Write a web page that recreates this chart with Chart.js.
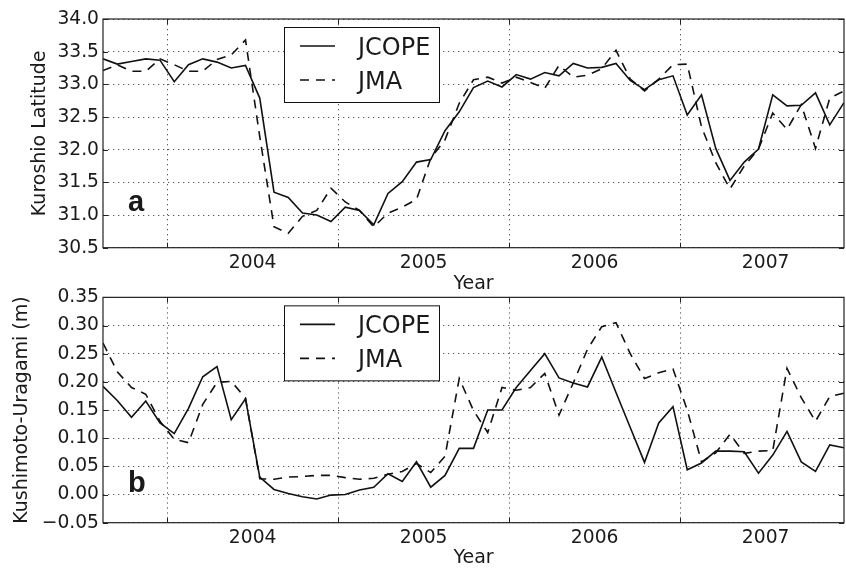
<!DOCTYPE html>
<html>
<head>
<meta charset="utf-8">
<script src="https://cdn.jsdelivr.net/npm/chart.js@4.4.1/dist/chart.umd.min.js"></script>
<style>
  html, body { margin: 0; padding: 0; background: #fff; }
  #wrap { position: relative; width: 846px; height: 568px; overflow: hidden; }
  #wrap canvas { position: absolute; left: 0; }
  #topChart { top: 0; }
  #bottomChart { top: 284px; }
</style>
</head>
<body>
<div id="wrap">
  <canvas id="topChart" width="846" height="294"></canvas>
  <canvas id="bottomChart" width="846" height="284"></canvas>
</div>
<script>
// monthly samples, Aug 2003 - Dec 2007
const months = [
  '2003-08', '2003-09', '2003-10', '2003-11', '2003-12',
  '2004-01', '2004-02', '2004-03', '2004-04', '2004-05', '2004-06', '2004-07', '2004-08', '2004-09', '2004-10', '2004-11', '2004-12',
  '2005-01', '2005-02', '2005-03', '2005-04', '2005-05', '2005-06', '2005-07', '2005-08', '2005-09', '2005-10', '2005-11', '2005-12',
  '2006-01', '2006-02', '2006-03', '2006-04', '2006-05', '2006-06', '2006-07', '2006-08', '2006-09', '2006-10', '2006-11', '2006-12',
  '2007-01', '2007-02', '2007-03', '2007-04', '2007-05', '2007-06', '2007-07', '2007-08', '2007-09', '2007-10', '2007-11', '2007-12'
];

// (a) Kuroshio latitude
const latJcope = [
  33.39, 33.31, 33.35, 33.39, 33.37,
  33.04, 33.30, 33.39, 33.34, 33.25, 33.29, 32.79, 31.35, 31.27, 31.03, 31.00, 30.90,
  31.12, 31.07, 30.85, 31.33, 31.51, 31.81, 31.85, 32.29, 32.58, 32.95, 33.05, 32.96,
  33.15, 33.08, 33.18, 33.13, 33.32, 33.25, 33.26, 33.32, 33.06, 32.92, 33.07, 33.13,
  32.53, 32.84, 32.02, 31.53, 31.81, 32.01, 32.84, 32.67, 32.68, 32.87, 32.38, 32.72
];
const latJma = [
  33.21, 33.30, 33.20, 33.20, 33.39,
  33.30, 33.20, 33.20, 33.38, 33.45, 33.68, 32.20, 30.82, 30.72, 30.98, 31.07, 31.41,
  31.20, 31.07, 30.82, 31.03, 31.12, 31.24, 31.87, 32.15, 32.71, 33.07, 33.11, 33.02,
  33.11, 33.03, 32.94, 33.29, 33.11, 33.14, 33.24, 33.52, 33.08, 32.90, 33.08, 33.30,
  33.31, 32.35, 31.80, 31.40, 31.75, 32.01, 32.56, 32.31, 32.69, 32.02, 32.79, 32.90
];

// (b) Kushimoto-Uragami sea level difference (m)
const levJcope = [
  0.192, 0.167, 0.137, 0.166, 0.127,
  0.108, 0.153, 0.209, 0.227, 0.133, 0.170, 0.031, 0.009, 0.002, -0.004, -0.008, -0.001,
  0.000, 0.008, 0.013, 0.037, 0.023, 0.058, 0.013, 0.034, 0.082, 0.082, 0.150, 0.150,
  0.190, 0.220, 0.250, 0.207, 0.198, 0.191, 0.244, 0.181, 0.119, 0.057, 0.127, 0.156,
  0.044, 0.056, 0.077, 0.077, 0.076, 0.038, 0.070, 0.112, 0.058, 0.041, 0.088, 0.083
];
const levJma = [
  0.269, 0.218, 0.190, 0.178, 0.130,
  0.098, 0.092, 0.160, 0.199, 0.201, 0.171, 0.028, 0.027, 0.031, 0.032, 0.034, 0.034,
  0.030, 0.027, 0.029, 0.036, 0.041, 0.055, 0.039, 0.068, 0.206, 0.149, 0.110, 0.190,
  0.185, 0.190, 0.215, 0.141, 0.198, 0.258, 0.298, 0.305, 0.250, 0.206, 0.216, 0.223,
  0.150, 0.058, 0.074, 0.107, 0.073, 0.077, 0.078, 0.224, 0.172, 0.130, 0.174, 0.180
];

const yearLabels = ['2004', '2005', '2006', '2007'];
const latTicks = [30.5, 31.0, 31.5, 32.0, 32.5, 33.0, 33.5, 34.0];
const levTicks = [-0.05, 0.00, 0.05, 0.10, 0.15, 0.20, 0.25, 0.30, 0.35];

const FONT = 'DejaVu Sans';
const TEXT = '#1a1a1a';
const GRID = 'rgba(0,0,0,0.65)';
const DOTS = [1.3, 3.7];

const toYear = m => {
    const [y, mo] = m.split('-').map(Number);
    return y + (mo - 0.5) / 12;
};
const xs = months.map(toYear);

// grid on year boundaries, labels in the middle of each year
const gridYears = yearLabels.map(Number);
const xTickValues = [];
gridYears.forEach(y => { xTickValues.push(y, y + 0.5); });

const decoPlugin = {
    id: 'deco',
    afterDraw(chart, args, o) {
        const {ctx, chartArea: a, scales} = chart;
        ctx.save();
        ctx.strokeStyle = '#222';
        ctx.lineWidth = 1;
        ctx.setLineDash([]);

        // inward tick marks
        ctx.beginPath();
        gridYears.forEach(v => {
            const x = Math.round(scales.x.getPixelForValue(v)) + 0.5;
            ctx.moveTo(x, a.bottom); ctx.lineTo(x, a.bottom - 5);
            ctx.moveTo(x, a.top); ctx.lineTo(x, a.top + 5);
        });
        scales.y.ticks.forEach(t => {
            const y = Math.round(scales.y.getPixelForValue(t.value)) + 0.5;
            ctx.moveTo(a.left, y); ctx.lineTo(a.left + 5, y);
            ctx.moveTo(a.right, y); ctx.lineTo(a.right - 5, y);
        });
        ctx.stroke();

        // frame
        ctx.lineWidth = 1.2;
        ctx.strokeRect(a.left, a.top, a.right - a.left, a.bottom - a.top);

        // legend box
        const bx = a.left + 181, by = a.top + 8, bw = 155, bh = 75;
        ctx.fillStyle = '#fff';
        ctx.fillRect(bx, by, bw, bh);
        ctx.lineWidth = 1;
        ctx.strokeStyle = '#111';
        ctx.strokeRect(bx + 0.5, by + 0.5, bw, bh);
        chart.data.datasets.forEach((ds, i) => {
            const y = by + 19 + i * 34;
            ctx.strokeStyle = ds.borderColor;
            ctx.lineWidth = ds.borderWidth;
            ctx.setLineDash(ds.borderDash || []);
            ctx.beginPath();
            ctx.moveTo(bx + 16, y);
            ctx.lineTo(bx + 51, y);
            ctx.stroke();
            ctx.setLineDash([]);
            ctx.fillStyle = TEXT;
            ctx.font = `24px "${FONT}"`;
            ctx.textBaseline = 'alphabetic';
            ctx.fillText(ds.label, bx + 74, y + 8.5);
        });

        // panel letter
        ctx.fillStyle = TEXT;
        ctx.font = 'bold 29px "Liberation Sans"';
        ctx.fillText(o.letter, a.left + 25, a.bottom - o.letterBottom);
        ctx.restore();
    }
};

const makePanel = (canvasId, p) => {
    const ctx = document.getElementById(canvasId).getContext('2d');
    const fmt = v => (v < 0 ? '\u2212' : '') + Math.abs(v).toFixed(p.digits);

    const series = (label, values, dash) => ({
        label: label,
        data: values.map((v, i) => ({x: xs[i], y: v})),
        borderColor: '#111',
        borderWidth: 1.6,
        borderDash: dash,
        pointRadius: 0,
        tension: 0,
        fill: false
    });

    return new Chart(ctx, {
        type: 'line',
        data: {
            datasets: [
                series('JCOPE', p.jcope, []),
                series('JMA', p.jma, [9, 7])
            ]
        },
        options: {
            responsive: false,
            animation: false,
            devicePixelRatio: 1,
            layout: {padding: {top: p.padTop, right: 2, left: 0, bottom: 0}},
            plugins: {
                legend: {display: false},
                tooltip: {enabled: false},
                deco: {letter: p.letter, letterBottom: p.letterBottom}
            },
            scales: {
                x: {
                    type: 'linear',
                    min: xs[0],
                    max: xs[xs.length - 1],
                    afterBuildTicks: s => { s.ticks = xTickValues.map(v => ({value: v})); },
                    afterFit: s => { s.height = p.xAxisHeight; },
                    ticks: {
                        autoSkip: false,
                        maxRotation: 0,
                        padding: 6,
                        color: TEXT,
                        font: {family: FONT, size: 18.7, lineHeight: 1},
                        callback: v => {
                            const lbl = String(v - 0.5);
                            return yearLabels.includes(lbl) ? lbl : '';
                        }
                    },
                    grid: {
                        color: c => (c.tick && Number.isInteger(c.tick.value)) ? GRID : 'transparent',
                        drawTicks: false,
                        lineWidth: 1
                    },
                    border: {display: false, dash: DOTS},
                    title: {
                        display: true,
                        text: 'Year',
                        color: TEXT,
                        font: {family: FONT, size: 19, lineHeight: 1},
                        padding: {top: 0, bottom: 0}
                    }
                },
                y: {
                    min: p.ticks[0],
                    max: p.ticks[p.ticks.length - 1],
                    afterBuildTicks: s => { s.ticks = p.ticks.map(v => ({value: v})); },
                    afterFit: s => { s.width = 103; },
                    ticks: {
                        padding: 4,
                        color: TEXT,
                        font: {family: FONT, size: 18.7, lineHeight: 1},
                        callback: v => fmt(v)
                    },
                    grid: {color: GRID, drawTicks: false, lineWidth: 1},
                    border: {display: false, dash: DOTS},
                    title: {
                        display: true,
                        text: p.yTitle,
                        color: TEXT,
                        font: {family: FONT, size: 19, lineHeight: 1},
                        padding: {top: p.titlePad, bottom: 0}
                    }
                }
            }
        },
        plugins: [decoPlugin]
    });
};

makePanel('topChart', {
    jcope: latJcope,
    jma: latJma,
    ticks: latTicks,
    digits: 1,
    yTitle: 'Kuroshio Latitude',
    titlePad: 30.5,
    padTop: 19,
    xAxisHeight: 46.3,
    letter: 'a',
    letterBottom: 37
});

makePanel('bottomChart', {
    jcope: levJcope,
    jma: levJma,
    ticks: levTicks,
    digits: 2,
    yTitle: 'Kushimoto-Uragami (m)',
    titlePad: 13,
    padTop: 9.3,
    xAxisHeight: 45.3,
    letter: 'b',
    letterBottom: 30.4
});
</script>
</body>
</html>
